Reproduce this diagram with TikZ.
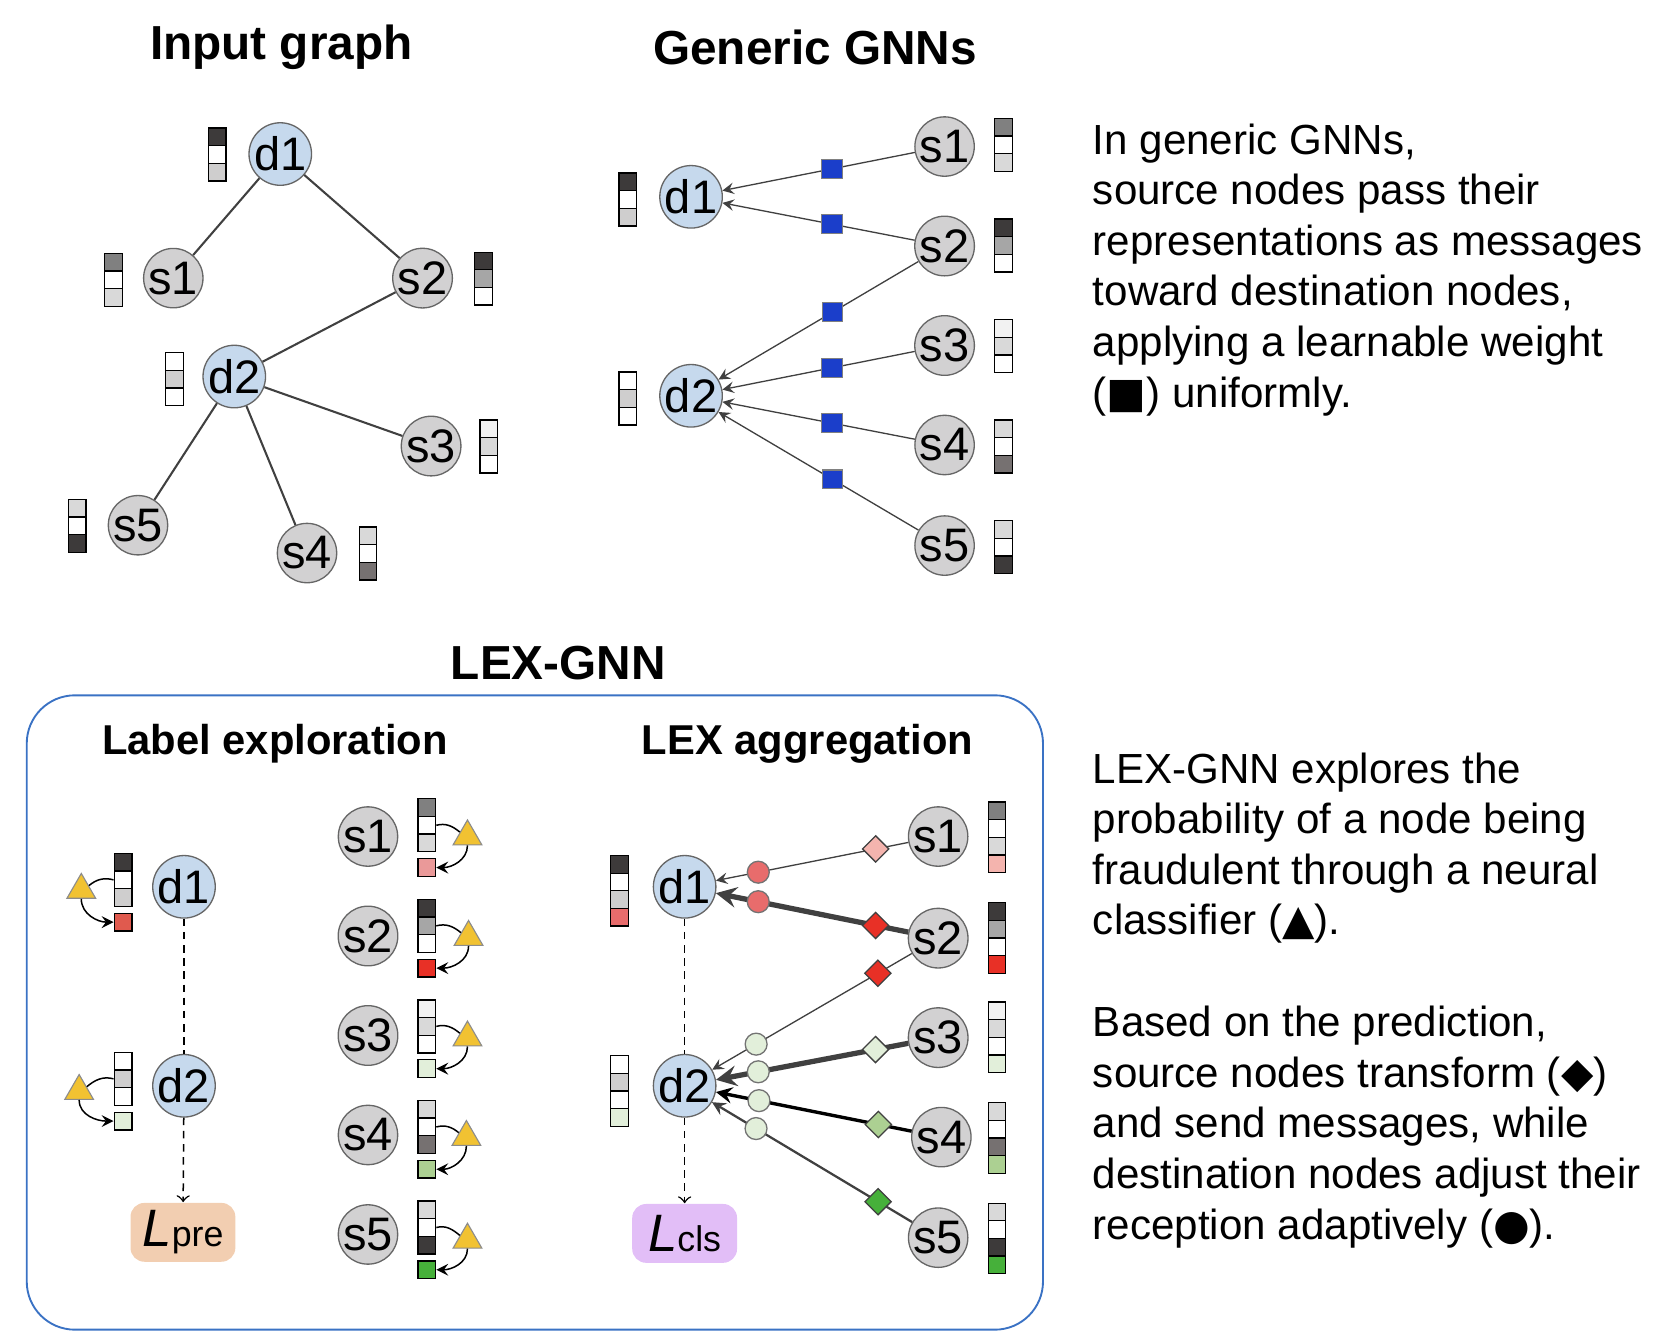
\documentclass[tikz,border=0pt]{standalone}
\usepackage{fontspec}
\setmainfont{Liberation Sans}
\newfontfamily\symfont{DejaVu Sans}
\usetikzlibrary{shapes.geometric}

\definecolor{dblue}{RGB}{198,217,237}
\definecolor{sgray}{RGB}{210,209,210}
\definecolor{vdark}{RGB}{61,58,58}
\definecolor{vgray}{RGB}{128,128,128}
\definecolor{vmid}{RGB}{166,166,166}
\definecolor{vlight}{RGB}{217,217,217}
\definecolor{vpale}{RGB}{242,242,242}
\definecolor{vdtwo}{RGB}{207,206,206}
\definecolor{vsfour}{RGB}{118,113,113}
\definecolor{wblue}{RGB}{27,62,202}
\definecolor{tyellow}{RGB}{241,194,50}
\definecolor{pinkA}{RGB}{234,153,153}
\definecolor{pinkB}{RGB}{244,180,174}
\definecolor{predA}{RGB}{224,90,78}
\definecolor{predB}{RGB}{232,108,108}
\definecolor{pred}{RGB}{232,48,38}
\definecolor{gpale}{RGB}{226,239,218}
\definecolor{glight}{RGB}{172,208,146}
\definecolor{ggreen}{RGB}{70,176,58}
\definecolor{peach}{RGB}{242,206,177}
\definecolor{lav}{RGB}{226,190,247}
\definecolor{frameblue}{RGB}{58,114,196}

\tikzset{
  gnode/.style={circle,draw=black!60,line width=0.35pt,minimum size=5.4mm,inner sep=0pt,font=\fontsize{12.5}{14}\selectfont},
  dnode/.style={gnode,fill=dblue},
  snode/.style={gnode,fill=sgray},
  cell/.style={draw=black,line width=0.35pt,minimum width=1.65mm,minimum height=1.65mm,inner sep=0pt},
  edge/.style={draw=black!75,line width=0.55pt},
  msg/.style={draw=black!75,line width=0.35pt,->},
  wsq/.style={fill=wblue,draw=black!50,line width=0.3pt,minimum width=1.9mm,minimum height=1.75mm,inner sep=0pt},
  clf/.style={regular polygon,regular polygon sides=3,fill=tyellow,draw=black!45,line width=0.3pt,minimum size=3.1mm,inner sep=0pt},
  trf/.style={diamond,draw=black!75,line width=0.35pt,minimum width=2.5mm,minimum height=2.5mm,inner sep=0pt},
  rcv/.style={circle,draw=black!55,line width=0.35pt,minimum size=2.05mm,inner sep=0pt},
  loss/.style={rounded corners=1.3mm,minimum width=9.8mm,minimum height=5.5mm,inner sep=0pt},
  loop/.style={draw=black,line width=0.4pt},
  title/.style={font=\bfseries\fontsize{12.7}{15}\selectfont},
  subtitle/.style={font=\bfseries\fontsize{11.1}{13}\selectfont},
  desc/.style={anchor=north west,align=left,inner sep=0pt,font=\fontsize{11.2}{13.45}\selectfont},
}

% feature vector: name, x, centre y of first cell, colours
\newcommand{\fvec}[4]{%
  \foreach \vc [count=\vi] in {#4}
    \node (#1-\vi) [cell,fill=\vc] at (#2,{-(#3)-16.5*(\vi-1)}) {};
}

\begin{document}
\begin{tikzpicture}[x=0.1mm,y=0.1mm,>=stealth]
\useasboundingbox (0,0) rectangle (1563,-1253);

% Input graph
\node (TI) [title] at (263,-44) {Input graph};
\node (Id1) [dnode] at (262,-144) {d1};
\node (Is1) [snode] at (162,-260) {s1};
\node (Is2) [snode] at (395,-260) {s2};
\node (Id2) [dnode] at (219,-352) {d2};
\node (Is3) [snode] at (403,-417) {s3};
\node (Is5) [snode] at (129,-491) {s5};
\node (Is4) [snode] at (287,-517) {s4};
\draw [edge] (Id1) -- (Is1);
\draw [edge] (Id1) -- (Is2);
\draw [edge] (Is2) -- (Id2);
\draw [edge] (Id2) -- (Is3);
\draw [edge] (Id2) -- (Is5);
\draw [edge] (Id2) -- (Is4);
\fvec{Ivd1}{203}{128}{vdark,white,vdtwo}
\fvec{Ivs1}{106}{245}{vgray,white,vlight}
\fvec{Ivs2}{452}{244}{vdark,vmid,white}
\fvec{Ivd2}{163}{338}{white,vdtwo,white}
\fvec{Ivs3}{457}{401}{vpale,vlight,white}
\fvec{Ivs5}{72}{475}{vlight,white,vdark}
\fvec{Ivs4}{344}{501}{vlight,white,vsfour}

% Generic GNNs
\node (TG) [title] at (762,-44) {Generic GNNs};
\node (Gd1) [dnode] at (646,-184) {d1};
\node (Gd2) [dnode] at (646,-370) {d2};
\node (Gs1) [snode] at (883,-137) {s1};
\node (Gs2) [snode] at (883,-230) {s2};
\node (Gs3) [snode] at (883,-323) {s3};
\node (Gs4) [snode] at (883,-416) {s4};
\node (Gs5) [snode] at (883,-510) {s5};
\draw [msg] (Gs1) -- (Gd1) node[wsq,pos=0.43] {};
\draw [msg] (Gs2) -- (Gd1) node[wsq,pos=0.43] {};
\draw [msg] (Gs2) -- (Gd2) node[wsq,pos=0.43] {};
\draw [msg] (Gs3) -- (Gd2) node[wsq,pos=0.43] {};
\draw [msg] (Gs4) -- (Gd2) node[wsq,pos=0.43] {};
\draw [msg] (Gs5) -- (Gd2) node[wsq,pos=0.43] {};
\fvec{Gvd1}{587}{170}{vdark,white,vdtwo}
\fvec{Gvd2}{587}{356}{white,vdtwo,white}
\fvec{Gvs1}{938}{119}{vgray,white,vlight}
\fvec{Gvs2}{938}{213}{vdark,vmid,white}
\fvec{Gvs3}{938}{307}{vpale,vlight,white}
\fvec{Gvs4}{938}{401}{vlight,white,vsfour}
\fvec{Gvs5}{938}{495}{vlight,white,vdark}

% Descriptions
\node (D1) [desc] at (1021,-115) {In generic GNNs,\\source nodes pass their\\representations as messages\\toward destination nodes,\\applying a learnable weight\\({\symfont ■}) uniformly.};
\node (D2) [desc] at (1021,-703) {LEX-GNN explores the\\probability of a node being\\fraudulent through a neural\\classifier ({\symfont ▲}).};
\node (D3) [desc] at (1021,-940) {Based on the prediction,\\source nodes transform ({\symfont ◆})\\and send messages, while\\destination nodes adjust their\\reception adaptively ({\symfont ●}).};

% LEX-GNN frame
\node (TL) [title] at (522,-620) {LEX-GNN};
\draw [frameblue,line width=0.5pt,rounded corners=4.5mm] (25,-650) rectangle (975,-1243);

% Label exploration
\node (TE) [subtitle] at (257,-695) {Label exploration};
\node (Ld1) [dnode] at (172,-829) {d1};
\node (Ld2) [dnode] at (172,-1015) {d2};
\node (Lpre) [loss,fill=peach] at (171,-1152) {{\fontsize{14}{15}\selectfont\itshape L}{\fontsize{9.5}{11}\selectfont pre}};
\draw [loop,dash pattern=on 2pt off 1.5pt] (Ld1) -- (Ld2);
\draw [loop,dash pattern=on 2pt off 1.5pt,-to] (Ld2) -- (Lpre);
\fvec{Lvd1}{115}{806}{vdark,white,vdtwo}
\node (Lpd1) [cell,fill=predA] at (115,-862) {};
\node (Lcd1) [clf] at (76,-832) {};
\draw [loop] (Lvd1-2.west) to [out=165,in=40] (Lcd1.side 3);
\draw [loop,->] (Lcd1.south) to [out=-90,in=180] (Lpd1.west);
\fvec{Lvd2}{115}{992}{white,vdtwo,white}
\node (Lpd2) [cell,fill=gpale] at (115,-1048) {};
\node (Lcd2) [clf] at (74,-1020) {};
\draw [loop] (Lvd2-2.west) to [out=165,in=40] (Lcd2.side 3);
\draw [loop,->] (Lcd2.south) to [out=-90,in=180] (Lpd2.west);

\node (Ls1) [snode] at (344,-782) {s1};
\fvec{Lvs1}{399}{755}{vgray,white,vlight}
\node (Lps1) [cell,fill=pinkA] at (399,-811) {};
\node (Lcs1) [clf] at (437,-782) {};
\draw [loop] (Lvs1-2.east) to [out=15,in=140] (Lcs1.side 1);
\draw [loop,->] (Lcs1.south) to [out=-90,in=0] (Lps1.east);
\node (Ls2) [snode] at (344,-875) {s2};
\fvec{Lvs2}{399}{849}{vdark,vmid,white}
\node (Lps2) [cell,fill=pred] at (399,-905) {};
\node (Lcs2) [clf] at (438,-876) {};
\draw [loop] (Lvs2-2.east) to [out=15,in=140] (Lcs2.side 1);
\draw [loop,->] (Lcs2.south) to [out=-90,in=0] (Lps2.east);
\node (Ls3) [snode] at (344,-968) {s3};
\fvec{Lvs3}{399}{943}{vpale,vlight,white}
\node (Lps3) [cell,fill=gpale] at (399,-999) {};
\node (Lcs3) [clf] at (437,-970) {};
\draw [loop] (Lvs3-2.east) to [out=15,in=140] (Lcs3.side 1);
\draw [loop,->] (Lcs3.south) to [out=-90,in=0] (Lps3.east);
\node (Ls4) [snode] at (344,-1061) {s4};
\fvec{Lvs4}{399}{1037}{vlight,white,vsfour}
\node (Lps4) [cell,fill=glight] at (399,-1093) {};
\node (Lcs4) [clf] at (436,-1063) {};
\draw [loop] (Lvs4-2.east) to [out=15,in=140] (Lcs4.side 1);
\draw [loop,->] (Lcs4.south) to [out=-90,in=0] (Lps4.east);
\node (Ls5) [snode] at (344,-1154) {s5};
\fvec{Lvs5}{399}{1131}{vlight,white,vdark}
\node (Lps5) [cell,fill=ggreen] at (399,-1187) {};
\node (Lcs5) [clf] at (437,-1159) {};
\draw [loop] (Lvs5-2.east) to [out=15,in=140] (Lcs5.side 1);
\draw [loop,->] (Lcs5.south) to [out=-90,in=0] (Lps5.east);

% LEX aggregation
\node (TA) [subtitle] at (755,-695) {LEX aggregation};
\node (Xd1) [dnode] at (640,-829) {d1};
\node (Xd2) [dnode] at (640,-1015) {d2};
\node (Xs1) [snode] at (877,-782) {s1};
\node (Xs2) [snode] at (877,-877) {s2};
\node (Xs3) [snode] at (877,-970) {s3};
\node (Xs4) [snode] at (880,-1063) {s4};
\node (Xs5) [snode] at (877,-1157) {s5};
\node (Lcls) [loss,fill=lav] at (640,-1153) {{\fontsize{14}{15}\selectfont\itshape L}{\fontsize{9.5}{11}\selectfont cls}};
\draw [loop,dash pattern=on 2pt off 1.5pt] (Xd1) -- (Xd2);
\draw [loop,dash pattern=on 2pt off 1.5pt,-to] (Xd2) -- (Lcls);
\draw [msg] (Xs1) -- (Xd1) node[trf,fill=pinkB,pos=0.17] {} node[rcv,fill=predB,pos=0.78] {};
\draw [msg,line width=1.4pt] (Xs2) -- (Xd1) node[trf,fill=pred,pos=0.17] {} node[rcv,fill=predB,pos=0.78] {};
\draw [msg] (Xs2) -- (Xd2) node[trf,fill=pred,pos=0.17] {} node[rcv,fill=gpale,pos=0.78] {};
\draw [msg,line width=1.4pt] (Xs3) -- (Xd2) node[trf,fill=gpale,pos=0.17] {} node[rcv,fill=gpale,pos=0.78] {};
\draw [msg,draw=black,line width=0.9pt] (Xs4) -- (Xd2) node[trf,fill=glight,pos=0.17] {} node[rcv,fill=gpale,pos=0.78] {};
\draw [msg,line width=0.6pt] (Xs5) -- (Xd2) node[trf,fill=ggreen,pos=0.17] {} node[rcv,fill=gpale,pos=0.78] {};
\fvec{Xvd1}{579}{808}{vdark,white,vdtwo,predB}
\fvec{Xvd2}{579}{995}{white,vdtwo,white,gpale}
\fvec{Xvs1}{932}{758}{vgray,white,vlight,pinkB}
\fvec{Xvs2}{932}{852}{vdark,vmid,white,pred}
\fvec{Xvs3}{932}{945}{vpale,vlight,white,gpale}
\fvec{Xvs4}{932}{1039}{vlight,white,vsfour,glight}
\fvec{Xvs5}{932}{1133}{vlight,white,vdark,ggreen}
\end{tikzpicture}
\end{document}
